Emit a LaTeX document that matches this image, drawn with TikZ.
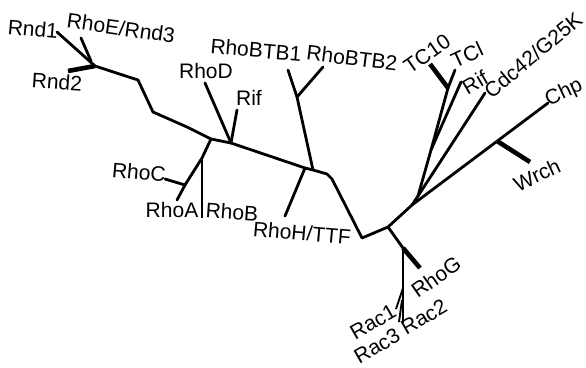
\documentclass[tikz,border=0pt]{standalone}
\usepackage{fontspec}
\setmainfont{Liberation Sans}
\begin{document}
\begin{tikzpicture}[x=1pt,y=-1pt,
  br/.style={line width=2.8pt,line cap=round,line join=round},
  thk/.style={line width=4.6pt,line cap=butt},
  thn/.style={line width=1.9pt},
  lab/.style={inner sep=0pt,font=\fontsize{21}{24}\selectfont}]
\useasboundingbox (0,0) rectangle (586,367);

% --- tree points ---
\coordinate (r0) at (95,66);
\coordinate (r3j) at (91,61);
\coordinate (tRnd1) at (57,32);
\coordinate (tRnd3) at (81,38);
\coordinate (tRnd2) at (68,71);
\coordinate (b1) at (138,80);
\coordinate (b2) at (153,112);
\coordinate (b3) at (187,127);
\coordinate (jA) at (211,139);
\coordinate (jD) at (231,143);
\coordinate (jH) at (305,168);
\coordinate (jB) at (313,170);
\coordinate (b4) at (327,174);
\coordinate (b5) at (332,179);
\coordinate (jR) at (362,238);
\coordinate (jG) at (388,227);
\coordinate (jM) at (412,205);
% Rho A/B/C
\coordinate (aB) at (202,158);
\coordinate (aC) at (185,185);
\coordinate (tRhoA) at (177,200);
\coordinate (tRhoC) at (165,179);
\coordinate (tRhoB) at (202,218);
% RhoD / Rif
\coordinate (tRhoD) at (205,83);
\coordinate (tRifL) at (237,110);
% RhoH and RhoBTB
\coordinate (tRhoH) at (285,216);
\coordinate (bt) at (297,97);
\coordinate (tBTB1) at (288,70);
\coordinate (tBTB2) at (323,67);
% Rac / RhoG
\coordinate (gR) at (403,248);
\coordinate (tRhoG) at (420,268);
\coordinate (rc1) at (403,288);
\coordinate (rc3) at (402,300);
\coordinate (tRac1) at (396,309);
\coordinate (tRac3) at (399,322);
\coordinate (tRac2) at (403,322);
% Cdc42 / TC10 / Chp
\coordinate (cj) at (418,196);
\coordinate (tCdc) at (485,93);
\coordinate (tr) at (431,150);
\coordinate (tcj) at (448,88);
\coordinate (tRifR) at (461,82);
\coordinate (tTC10) at (430,64);
\coordinate (tTCl) at (455,70);
\coordinate (wj) at (497,141);
\coordinate (tChp) at (548,103);
\coordinate (tWrch) at (530,162);

% --- branches ---
\draw[br] (tRnd1) -- (r0);
\draw[br] (tRnd3) -- (r3j);
\draw[thk] (tRnd2) -- (r0);
\draw[br] (r0) -- (b1) -- (b2) -- (b3) -- (jA) -- (jD) -- (jH) -- (jB) -- (b4) -- (b5) -- (jR) -- (jG) -- (jM);
\draw[br] (jA) -- (aB) -- (aC) -- (tRhoA);
\draw[br] (aC) -- (tRhoC);
\draw[thn] (aB) -- (tRhoB);
\draw[br] (jD) -- (tRhoD);
\draw[br] (jD) -- (tRifL);
\draw[br] (jH) -- (tRhoH);
\draw[br] (jB) -- (bt) -- (tBTB1);
\draw[br] (bt) -- (tBTB2);
\draw[br] (jG) -- (gR);
\draw[thk] (gR) -- (tRhoG);
\draw[br] (gR) -- (tRac2);
\draw[thn] (rc1) -- (tRac1);
\draw[thn] (rc3) -- (tRac3);
\draw[br] (jM) -- (cj) -- (tCdc);
\draw[br] (cj) -- (tr) -- (tcj);
\draw[br] (tr) -- (tRifR);
\draw[thk] (tcj) -- (tTC10);
\draw[br] (tcj) -- (tTCl);
\draw[br] (jM) -- (tChp);
\draw[thk] (wj) -- (tWrch);

% --- labels ---
\node[lab,rotate=-5] (lRnd1) at (33,29) {Rnd1};
\node[lab,rotate=-8] (lRnd3) at (121,28) {RhoE/Rnd3};
\node[lab,rotate=-4] (lRnd2) at (57,82) {Rnd2};
\node[lab] (lRhoD) at (206,71) {RhoD};
\node[lab] (lRifL) at (249,98) {Rif};
\node[lab,rotate=-5] (lBTB1) at (256,50) {RhoBTB1};
\node[lab,rotate=-7] (lBTB2) at (352,58) {RhoBTB2};
\node[lab,rotate=35] (lTC10) at (427,54) {TC10};
\node[lab,rotate=-5] (lRhoC) at (139,172) {RhoC};
\node[lab] (lRhoA) at (172,210) {RhoA};
\node[lab,rotate=-4] (lRhoB) at (232,212) {RhoB};
\node[lab,rotate=-5] (lRhoH) at (302,233) {RhoH/TTF};
\node[lab,rotate=35] (lRhoG) at (436,277) {RhoG};
\node[lab,rotate=30] (lRac1) at (373,322) {Rac1};
\node[lab,rotate=30] (lRac3) at (377,346) {Rac3};
\node[lab,rotate=30] (lRac2) at (424,317) {Rac2};
\node[lab,rotate=25] (lTCl) at (467,55) {TCl};
\node[lab,rotate=30] (lRifR) at (475,82) {Rif};
\node[lab,rotate=40] (lCdc) at (533,55) {Cdc42/G25K};
\node[lab,rotate=25] (lChp) at (564,93) {Chp};
\node[lab,rotate=25] (lWrch) at (537,175) {Wrch};
\end{tikzpicture}
\end{document}
